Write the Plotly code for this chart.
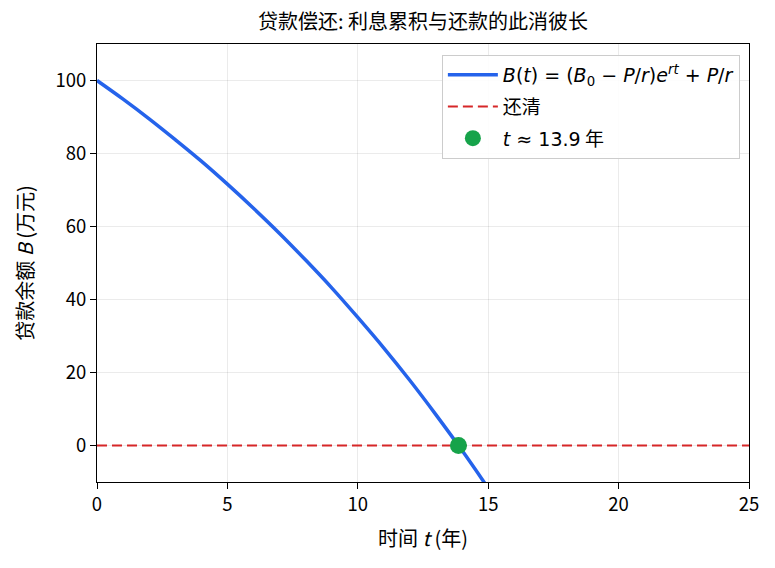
import plotly.graph_objects as go

# Values (balance in 万元 at each year)
t_years = [0, 1, 2, 3, 4, 5, 6, 7, 8, 9, 10, 11, 12, 13, 14, 15]
balance = [100.0, 94.9, 89.5, 83.8, 77.9, 71.6, 65.0, 58.1, 50.8, 43.2,
           35.1, 26.7, 17.8, 8.4, -1.4, -11.7]
payoff_x = [0, 25]
payoff_y = [0, 0]
payoff_t = [13.86]
payoff_b = [0]

FONT = "Noto Sans CJK SC, Noto Sans, DejaVu Sans"
MATH = 'font-family:DejaVu Sans'

fig = go.Figure()
fig.add_trace(go.Scatter(
    x=t_years, y=balance, mode="lines", legendgroup="a",
    line=dict(color="#2563eb", width=3.5, shape="spline"),
    name=f'<span style="{MATH}"><i>B</i>(<i>t</i>) = (<i>B</i><sub>0</sub> − <i>P</i>/<i>r</i>)<i>e</i><sup><i>rt</i></sup> + <i>P</i>/<i>r</i></span>',
))
fig.add_trace(go.Scatter(
    x=payoff_x, y=payoff_y, mode="lines", legendgroup="b",
    line=dict(color="#d62728", width=2, dash="10px,5px"),
    name="还清",
))
fig.add_trace(go.Scatter(
    x=payoff_t, y=payoff_b, mode="markers", legendgroup="c",
    marker=dict(color="#16a34a", size=17),
    name=f'<span style="{MATH}"><i>t</i> ≈ 13.9</span> 年',
))

axis_common = dict(
    showline=True, linecolor="black", linewidth=1.2, mirror=True,
    ticks="outside", ticklen=6, tickcolor="black", tickwidth=1.2,
    showgrid=True, gridcolor="rgba(0,0,0,0.08)", gridwidth=1,
    zeroline=False, tickfont=dict(size=18.5, color="black", family=FONT),
)

fig.update_layout(
    width=775, height=568,
    margin=dict(l=97, r=26, t=44, b=86),
    paper_bgcolor="white", plot_bgcolor="white",
    font=dict(family=FONT, color="black"),
    title=dict(text="贷款偿还: 利息累积与还款的此消彼长", x=0.5, xref="paper", xanchor="center",
               y=1 - 22 / 568, yref="container", yanchor="middle", font=dict(size=20, family=FONT)),
    xaxis=dict(range=[0, 25], tickvals=[0, 5, 10, 15, 20, 25],
               title=dict(text="时间 <i>t</i> (年)", font=dict(size=20), standoff=16),
               **axis_common),
    yaxis=dict(range=[-10, 110], tickvals=[0, 20, 40, 60, 80, 100],
               title=dict(text="贷款余额 <i>B</i> (万元)", font=dict(size=20), standoff=16),
               **axis_common),
    legend=dict(x=0.986, y=0.975, xanchor="right", yanchor="top",
                bgcolor="rgba(255,255,255,0.9)", bordercolor="#cccccc", borderwidth=1,
                itemwidth=50, tracegroupgap=4,
                font=dict(size=19, family=FONT)),
    showlegend=True,
)

fig.write_html("out.html")
